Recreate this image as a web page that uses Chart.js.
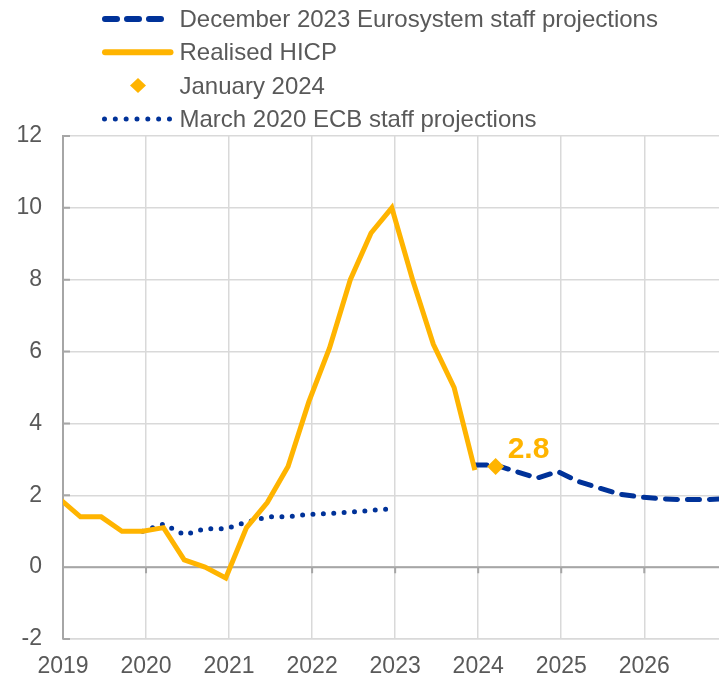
<!DOCTYPE html>
<html>
<head>
<meta charset="utf-8">
<script src="https://cdn.jsdelivr.net/npm/chart.js@4.4.1/dist/chart.umd.min.js"></script>
<style>
    html, body { margin: 0; padding: 0; background: #ffffff; }
    canvas { display: block; }
</style>
</head>
<body>
<canvas id="hicpChart" width="719" height="679"></canvas>
<script>
// tick labels
const yearTicks = [2019, 2020, 2021, 2022, 2023, 2024, 2025, 2026];

// Realised HICP, quarterly, 2018Q4 - 2023Q4
const realisedStart = '2018Q4';
const realisedHicp = [1.9, 1.4, 1.4, 1.0, 1.0, 1.1, 0.2, 0.0, -0.3, 1.1, 1.8, 2.8, 4.6, 6.1, 8.0, 9.3, 10.0, 8.0, 6.2, 5.0, 2.7];

// December 2023 Eurosystem staff projections, 2023Q4 - 2026Q4
const dec2023Start = '2023Q4';
const dec2023Projections = [2.84, 2.84, 2.66, 2.48, 2.66, 2.38, 2.2, 2.03, 1.95, 1.9, 1.88, 1.88, 1.9];

// March 2020 ECB staff projections, 2019Q4 - 2022Q4
const mar2020Start = '2019Q4';
const mar2020Projections = [1.0, 1.2, 0.9, 1.07, 1.07, 1.25, 1.4, 1.4, 1.47, 1.49, 1.53, 1.58, 1.62];

// January 2024 flash estimate
const jan2024Quarter = '2024Q1';
const jan2024Value = [2.8];

const NAVY = '#003299';
const YELLOW = '#FFB400';
const TEXT = '#595959';
const GRID = '#D9D9D9';
const AXIS = '#A6A6A6';
const FONT = '"Liberation Sans", Arial, sans-serif';

// quarterly values sit at the end of their quarter on the time axis
function quarterPos(label) {
    const year = parseInt(label.slice(0, 4), 10);
    const q = parseInt(label.slice(5), 10);
    return year + q * 0.25 - 0.04;
}

function toPoints(startLabel, values) {
    const start = quarterPos(startLabel);
    return values.map((v, i) => ({ x: start + i * 0.25, y: v }));
}

const legendItems = [
    { text: 'December 2023 Eurosystem staff projections', kind: 'line', color: NAVY, dash: [12, 10], width: 6 },
    { text: 'Realised HICP', kind: 'line', color: YELLOW, dash: [], width: 6 },
    { text: 'January 2024', kind: 'diamond', color: YELLOW },
    { text: 'March 2020 ECB staff projections', kind: 'line', color: NAVY, dash: [0, 10.83], width: 5 }
];

const customLegend = {
    id: 'customLegend',
    afterDraw(chart) {
        const ctx = chart.ctx;
        ctx.save();
        legendItems.forEach((item, i) => {
            const cy = 19 + i * 33.3;
            if (item.kind === 'line') {
                const cap = item.width / 2;
                ctx.beginPath();
                ctx.setLineDash(item.dash);
                ctx.lineCap = 'round';
                ctx.lineWidth = item.width;
                ctx.strokeStyle = item.color;
                ctx.moveTo(102 + cap, cy);
                ctx.lineTo(173 - cap + 0.5, cy);
                ctx.stroke();
            } else {
                ctx.setLineDash([]);
                ctx.fillStyle = item.color;
                ctx.beginPath();
                ctx.moveTo(138, cy - 7.5);
                ctx.lineTo(146, cy);
                ctx.lineTo(138, cy + 7.5);
                ctx.lineTo(130, cy);
                ctx.closePath();
                ctx.fill();
            }
            ctx.fillStyle = TEXT;
            ctx.font = '24px ' + FONT;
            ctx.textAlign = 'left';
            ctx.textBaseline = 'alphabetic';
            ctx.fillText(item.text, 179.5, cy + 8);
        });
        ctx.restore();
    }
};

// zero line with year ticks, and inward ticks on the value axis
const axisDecor = {
    id: 'axisDecor',
    beforeDatasetsDraw(chart) {
        const { ctx, chartArea, scales } = chart;
        const x = scales.x, y = scales.y;
        const y0 = y.getPixelForValue(0);
        ctx.save();
        ctx.strokeStyle = AXIS;
        ctx.lineWidth = 2;
        ctx.beginPath();
        ctx.moveTo(chartArea.left, y0);
        ctx.lineTo(chartArea.right, y0);
        yearTicks.forEach(yr => {
            const px = x.getPixelForValue(yr);
            ctx.moveTo(px, y0);
            ctx.lineTo(px, y0 + 6);
        });
        y.ticks.forEach(t => {
            const py = y.getPixelForValue(t.value);
            ctx.moveTo(chartArea.left, py);
            ctx.lineTo(chartArea.left + 7, py);
        });
        ctx.stroke();
        ctx.restore();
    }
};

const valueLabel = {
    id: 'valueLabel',
    afterDatasetsDraw(chart) {
        const meta = chart.getDatasetMeta(1);
        const pt = meta.data[0];
        if (!pt) return;
        const ctx = chart.ctx;
        ctx.save();
        ctx.fillStyle = YELLOW;
        ctx.font = 'bold 30px ' + FONT;
        ctx.textAlign = 'left';
        ctx.textBaseline = 'middle';
        ctx.fillText(jan2024Value[0].toFixed(1), pt.x + 12, pt.y - 17);
        ctx.restore();
    }
};

const ctx = document.getElementById('hicpChart').getContext('2d');

const chart = new Chart(ctx, {
    type: 'line',
    data: {
        datasets: [
            {
                label: 'March 2020 ECB staff projections',
                data: toPoints(mar2020Start, mar2020Projections),
                borderColor: NAVY,
                borderWidth: 5,
                borderDash: [0, 10.4],
                borderCapStyle: 'round',
                pointRadius: 0,
                order: 4
            },
            {
                label: 'January 2024',
                type: 'scatter',
                data: [{ x: quarterPos(jan2024Quarter), y: jan2024Value[0] }],
                pointStyle: 'rectRot',
                pointRadius: 8.5,
                pointHoverRadius: 8.5,
                backgroundColor: YELLOW,
                borderColor: YELLOW,
                borderWidth: 0,
                order: 0
            },
            {
                label: 'Realised HICP',
                data: toPoints(realisedStart, realisedHicp),
                borderColor: YELLOW,
                borderWidth: 5,
                pointRadius: 0,
                order: 2
            },
            {
                label: 'December 2023 Eurosystem staff projections',
                data: toPoints(dec2023Start, dec2023Projections),
                borderColor: NAVY,
                borderWidth: 5,
                borderDash: [12, 10],
                borderCapStyle: 'round',
                pointRadius: 0,
                order: 3
            }
        ]
    },
    options: {
        responsive: false,
        animation: false,
        devicePixelRatio: 1,
        layout: {
            autoPadding: false,
            padding: { top: 136, left: 0, right: 0, bottom: 0 }
        },
        plugins: {
            legend: { display: false },
            tooltip: { enabled: false }
        },
        scales: {
            x: {
                type: 'linear',
                min: 2019,
                max: 2026.9,
                afterBuildTicks: scale => {
                    scale.ticks = yearTicks.map(v => ({ value: v }));
                },
                afterFit: scale => {
                    scale.height = 40;
                    scale.paddingLeft = 0;
                    scale.paddingRight = 0;
                },
                ticks: {
                    autoSkip: false,
                    maxRotation: 0,
                    padding: 14,
                    color: TEXT,
                    font: { family: FONT, size: 23 },
                    callback: value => String(value)
                },
                grid: {
                    color: GRID,
                    lineWidth: 1.5,
                    drawTicks: false
                },
                border: { color: GRID, width: 1.5 }
            },
            y: {
                min: -2,
                max: 12,
                afterFit: scale => {
                    scale.width = 63;
                },
                ticks: {
                    stepSize: 2,
                    padding: 21,
                    color: TEXT,
                    font: { family: FONT, size: 23 }
                },
                grid: {
                    color: GRID,
                    lineWidth: 1.5,
                    drawTicks: false
                },
                border: { color: AXIS, width: 2 }
            }
        }
    },
    plugins: [axisDecor, valueLabel, customLegend]
});
</script>
</body>
</html>
